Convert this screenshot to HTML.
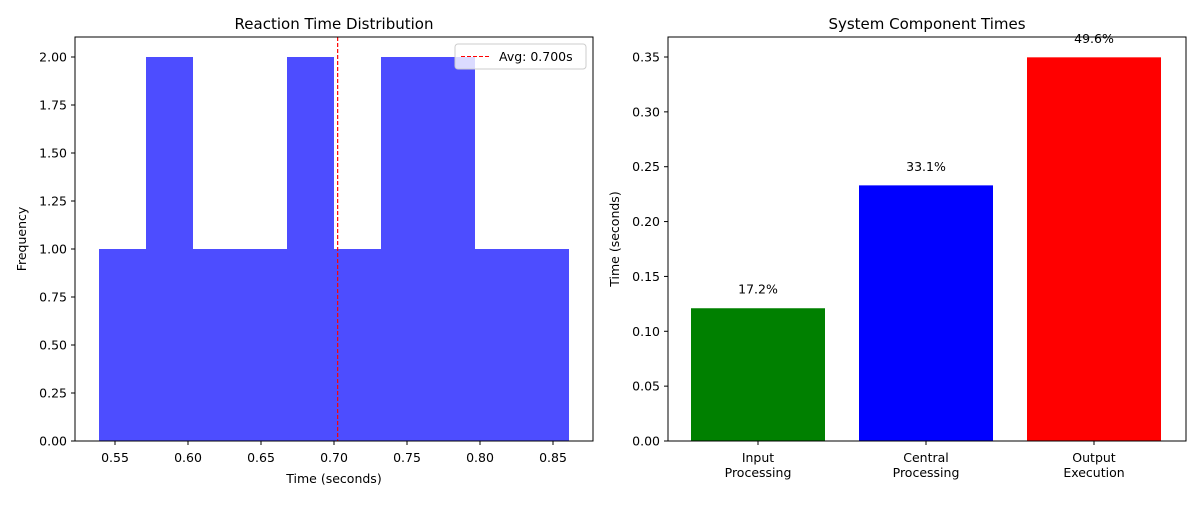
<!DOCTYPE html>
<html><head><meta charset="utf-8"><style>
body{margin:0;background:#fff}
svg text{font-family:"DejaVu Sans","Liberation Sans",sans-serif;fill:#000}
</style></head><body>
<svg id="c" width="1200" height="500" xmlns="http://www.w3.org/2000/svg"></svg>
<script>
const histEdgesStart = 0.5390;
const histBinWidth = 0.0322;
const histCounts = [1,2,1,1,2,1,2,2,1,1];
const avgValue = 0.7025;
const avgLabel = "Avg: 0.700s";
const leftXTicks = [0.55,0.60,0.65,0.70,0.75,0.80,0.85];
const leftYTicks = [0,0.25,0.5,0.75,1.0,1.25,1.5,1.75,2.0];
const compNames = [["Input","Processing"],["Central","Processing"],["Output","Execution"]];
const compValues = [0.121,0.233,0.3497];
const compPct = ["17.2%","33.1%","49.6%"];
const compColors = ["#008000","#0000ff","#ff0000"];
const rightYTicks = [0,0.05,0.10,0.15,0.20,0.25,0.30,0.35];

const svg=document.getElementById('c');
const NS="http://www.w3.org/2000/svg";
function mk(t,a,txt){const e=document.createElementNS(NS,t);for(const k in a)e.setAttribute(k,a[k]);if(txt!==undefined)e.textContent=txt;svg.appendChild(e);return e;}

// left axes
const L={x0:75,x1:593,y0:441,y1:37};
const lx=v=>115+(v-0.55)*1460;
const ly=v=>441-v*192;
histCounts.forEach((c,i)=>{
  const a=histEdgesStart+i*histBinWidth;
  const x0=Math.round(lx(a)), x1=Math.round(lx(a+histBinWidth));
  const r=mk('rect',{x:x0,y:ly(c),width:x1-x0,height:ly(0)-ly(c),fill:'#4d4dff','shape-rendering':'crispEdges'});
  
  
});
const al=mk('line',{x1:lx(avgValue),x2:lx(avgValue),y1:L.y1,y2:L.y0,stroke:'#ff0000','stroke-width':1.2,'stroke-dasharray':'4,2'});


leftXTicks.forEach(v=>{
  mk('line',{x1:lx(v),x2:lx(v),y1:441,y2:445,stroke:'#000'});
  const t=mk('text',{x:lx(v),y:462,'font-size':12.5,'text-anchor':'middle'},v.toFixed(2));
  
  
});
leftYTicks.forEach(v=>{
  mk('line',{x1:71,x2:75,y1:ly(v),y2:ly(v),stroke:'#000'});
  const t=mk('text',{x:67,y:ly(v)+4.5,'font-size':12.5,'text-anchor':'end'},v.toFixed(2));
  
  
});
mk('rect',{x:L.x0,y:L.y1,width:L.x1-L.x0,height:L.y0-L.y1,fill:'none',stroke:'#000','stroke-width':1});
let t=mk('text',{x:334,y:29,'font-size':15,'text-anchor':'middle'},'Reaction Time Distribution');

t=mk('text',{x:334,y:483,'font-size':12.5,'text-anchor':'middle'},'Time (seconds)');

t=mk('text',{x:26,y:239,'font-size':12.5,'text-anchor':'middle',transform:'rotate(-90 26 239)'},'Frequency');

const lg=mk('rect',{x:455,y:44,width:131,height:25,rx:3,fill:'#fff','fill-opacity':0.8,stroke:'#ccc'});

mk('line',{x1:461,x2:489,y1:56.5,y2:56.5,stroke:'#ff0000','stroke-dasharray':'4,2'});
t=mk('text',{x:499,y:61,'font-size':12.5},avgLabel);


// right axes
const R={x0:668,x1:1186,y0:441,y1:37};
const ry=v=>441-v*(384/0.35);
const bw=134, centers=i=>758+i*168;
compValues.forEach((v,i)=>{
  const b=mk('rect',{x:centers(i)-bw/2,y:ry(v),width:bw,height:ry(0)-ry(v),fill:compColors[i]});
  
  
  const p=mk('text',{x:centers(i),y:ry(v)-14.5,'font-size':12.5,'text-anchor':'middle'},compPct[i]);
  
  
  mk('line',{x1:centers(i),x2:centers(i),y1:441,y2:445,stroke:'#000'});
  compNames[i].forEach((s,j)=>{
    const c=mk('text',{x:centers(i),y:462+j*15,'font-size':12.5,'text-anchor':'middle'},s);
    
    
  });
});
rightYTicks.forEach(v=>{
  mk('line',{x1:664,x2:668,y1:ry(v),y2:ry(v),stroke:'#000'});
  const c=mk('text',{x:660,y:ry(v)+4.5,'font-size':12.5,'text-anchor':'end'},v.toFixed(2));
  
  
});
mk('rect',{x:R.x0,y:R.y1,width:R.x1-R.x0,height:R.y0-R.y1,fill:'none',stroke:'#000','stroke-width':1});
t=mk('text',{x:927,y:29,'font-size':15,'text-anchor':'middle'},'System Component Times');

t=mk('text',{x:619,y:239,'font-size':12.5,'text-anchor':'middle',transform:'rotate(-90 619 239)'},'Time (seconds)');

</script>
</body></html>
